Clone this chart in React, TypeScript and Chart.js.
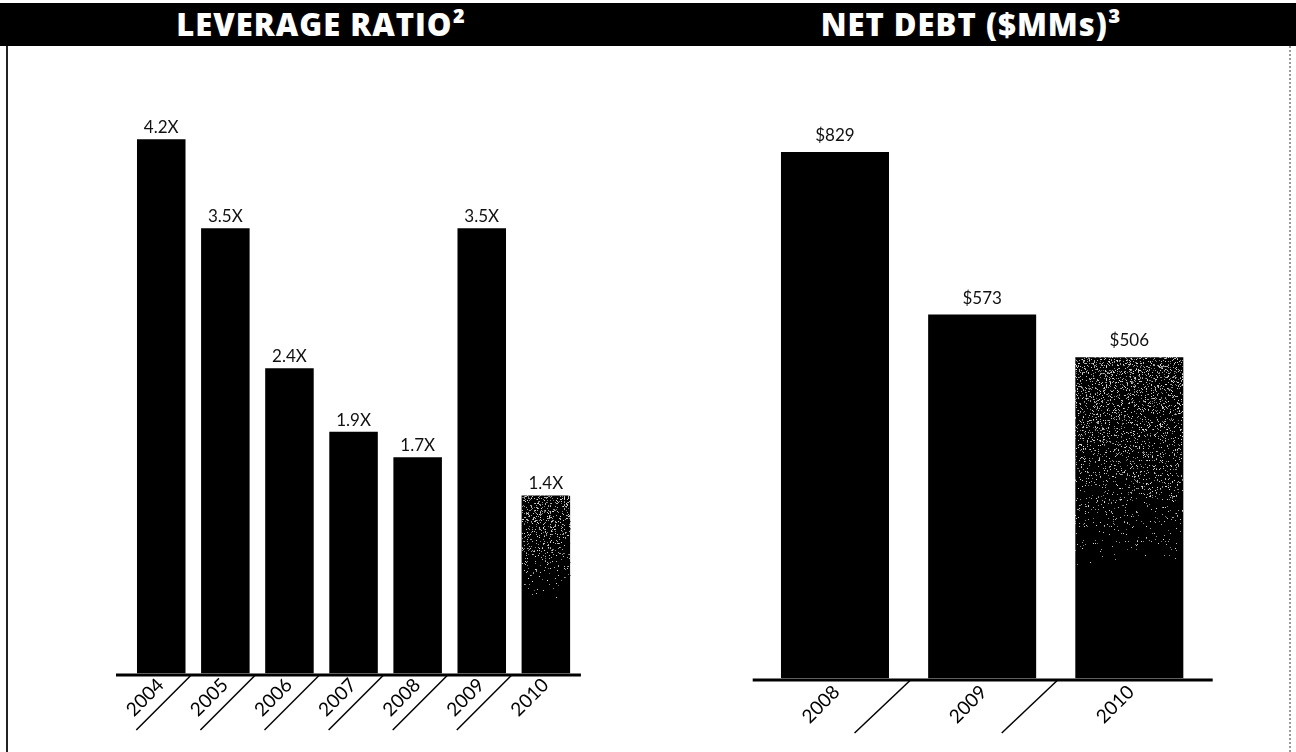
import React, { useEffect, useRef } from "react";
import { Chart, registerables } from "chart.js";

Chart.register(...registerables);

const leverageYears = ["2004", "2005", "2006", "2007", "2008", "2009", "2010"];
const leverageValues = [4.2, 3.5, 2.4, 1.9, 1.7, 3.5, 1.4];
const leverageLabels = ["4.2X", "3.5X", "2.4X", "1.9X", "1.7X", "3.5X", "1.4X"];

const debtYears = ["2008", "2009", "2010"];
const debtValues = [829, 573, 506];
const debtLabels = ["$829", "$573", "$506"];

const FONT = "Lato, 'Open Sans', sans-serif";

function hash(x: number, y: number) {
  let h = (Math.imul(x, 374761393) + Math.imul(y, 668265263)) | 0;
  h = Math.imul(h ^ (h >>> 13), 1274126177);
  h = h ^ (h >>> 16);
  return (h >>> 0) / 4294967296;
}

type DecorOpts = {
  valueLabels: string[];
  labelGap: number;
  tickDx: number;
  tickDy: number;
  lineDx: number;
  lineTopDy: number;
  lineW: number;
  lineH: number;
  lineCount: number;
  axisExtL: number;
  axisExtR: number;
  axisDy: number;
  fade: number;
  peak: number;
};

function makeDecor(o: DecorOpts) {
  return {
    id: "decor",
    afterDatasetsDraw(chart: any) {
      const ctx = chart.ctx as CanvasRenderingContext2D;
      const meta = chart.getDatasetMeta(0);
      const xs = chart.scales.x;
      const area = chart.chartArea;
      // speckle on last bar
      const last = meta.data[meta.data.length - 1];
      if (last) {
        const { x, y, base, width } = last.getProps(["x", "y", "base", "width"], true);
        const l = Math.round(x - width / 2);
        const t = Math.round(y);
        const w = Math.round(width);
        const h = Math.round(base - y);
        const img = ctx.getImageData(l, t, w, h);
        for (let py = 0; py < h; py++) {
          const frac = py / h;
          const d = Math.max(0, o.peak * (1 - frac / o.fade));
          for (let px = 0; px < w; px++) {
            if (hash(px + l, py + t) < d) {
              const idx = (py * w + px) * 4;
              const g = 110 + Math.floor(hash(py + 7, px + 3) * 120);
              img.data[idx] = g;
              img.data[idx + 1] = g;
              img.data[idx + 2] = g;
              img.data[idx + 3] = 255;
            }
          }
        }
        ctx.putImageData(img, l, t);
      }
      ctx.save();
      // value labels
      ctx.fillStyle = "#111";
      ctx.font = `17px ${FONT}`;
      ctx.textAlign = "center";
      ctx.textBaseline = "alphabetic";
      meta.data.forEach((bar: any, i: number) => {
        ctx.fillText(o.valueLabels[i], bar.x, bar.y - o.labelGap);
      });
      // axis line
      ctx.fillStyle = "#000";
      ctx.fillRect(area.left - o.axisExtL, area.bottom + o.axisDy - 1.5, area.right - area.left + o.axisExtL + o.axisExtR, 3);
      // diagonal lines
      const labels = chart.data.labels as string[];
      const n = labels.length;
      const spacing = (area.right - area.left) / n;
      ctx.strokeStyle = "#000";
      ctx.lineWidth = 1.5;
      for (let i = 0; i < o.lineCount; i++) {
        const bx = xs.getPixelForValue(i) + spacing / 2 + o.lineDx;
        const by = area.bottom + o.lineTopDy;
        ctx.beginPath();
        ctx.moveTo(bx, by);
        ctx.lineTo(bx - o.lineW, by + o.lineH);
        ctx.stroke();
      }
      // tick labels
      ctx.fillStyle = "#000";
      ctx.font = `19px ${FONT}`;
      ctx.textBaseline = "middle";
      labels.forEach((lab, i) => {
        const cx = xs.getPixelForValue(i) + o.tickDx;
        const cy = area.bottom + o.tickDy;
        ctx.save();
        ctx.translate(cx, cy);
        ctx.rotate(-Math.PI / 4);
        ctx.fillText(lab, 0, 0);
        ctx.restore();
      });
      ctx.restore();
    },
  };
}

function BarPanel(props: {
  labels: string[];
  values: number[];
  yMax: number;
  padding: { left: number; right: number; top: number; bottom: number };
  barPct: number;
  decor: DecorOpts;
  left: number;
}) {
  const ref = useRef<HTMLCanvasElement>(null);
  useEffect(() => {
    const chart = new Chart(ref.current!, {
      type: "bar",
      data: {
        labels: props.labels,
        datasets: [
          {
            data: props.values,
            backgroundColor: "#000",
            borderWidth: 0,
            categoryPercentage: 1,
            barPercentage: props.barPct,
          },
        ],
      },
      options: {
        animation: false,
        responsive: false,
        devicePixelRatio: 1,
        layout: { padding: props.padding },
        plugins: { legend: { display: false }, tooltip: { enabled: false }, title: { display: false } },
        scales: {
          x: { display: false, offset: true },
          y: { display: false, min: 0, max: props.yMax },
        },
      },
      plugins: [makeDecor(props.decor)],
    });
    return () => chart.destroy();
  }, []);
  return (
    <canvas
      ref={ref}
      width={648}
      height={752}
      style={{ position: "absolute", left: props.left, top: 0, width: 648, height: 752 }}
    />
  );
}

export default function App() {
  const titleStyle: React.CSSProperties = {
    position: "absolute",
    top: 3,
    height: 43,
    lineHeight: "43px",
    color: "#fff",
    fontFamily: "'Open Sans', sans-serif",
    fontWeight: 800,
    fontSize: 31,
    letterSpacing: 1,
    transform: "translateX(-50%)",
    whiteSpace: "nowrap",
  };
  return (
    <div style={{ position: "absolute", left: 0, top: 0, width: 1296, height: 752, background: "#fff", overflow: "hidden" }}>
      <BarPanel
        labels={leverageYears}
        values={leverageValues}
        yMax={5}
        padding={{ left: 129.2, right: 70.1, top: 37.55, bottom: 78.5 }}
        barPct={0.757}
        left={0}
        decor={{
          valueLabels: leverageLabels,
          labelGap: 6,
          tickDx: -16,
          tickDy: 24,
          lineDx: -2,
          lineTopDy: 1.5,
          lineW: 55,
          lineH: 55,
          lineCount: 6,
          axisExtL: 13.2,
          axisExtR: 3,
          axisDy: 1.5,
          fade: 0.6,
          peak: 0.22,
        }}
      />
      <BarPanel
        labels={debtYears}
        values={debtValues}
        yMax={1000}
        padding={{ left: 113.4, right: 93.1, top: 43.4, bottom: 73.5 }}
        barPct={0.734}
        left={648}
        decor={{
          valueLabels: debtLabels,
          labelGap: 11,
          tickDx: -14,
          tickDy: 26,
          lineDx: 2,
          lineTopDy: 1.5,
          lineW: 56,
          lineH: 53,
          lineCount: 2,
          axisExtL: 8.7,
          axisExtR: 9.8,
          axisDy: 1.5,
          fade: 0.65,
          peak: 0.2,
        }}
      />
      <div style={{ position: "absolute", left: 0, top: 3, width: 1296, height: 43, background: "#000" }} />
      <div style={{ ...titleStyle, left: 321 }}>LEVERAGE RATIO²</div>
      <div style={{ ...titleStyle, left: 971 }}>NET DEBT ($MMs)³</div>
      <div style={{ position: "absolute", left: 6, top: 46, width: 2, height: 706, background: "#222" }} />
      <div style={{ position: "absolute", left: 1289, top: 46, width: 0, height: 706, borderLeft: "2px dotted #999" }} />
    </div>
  );
}
